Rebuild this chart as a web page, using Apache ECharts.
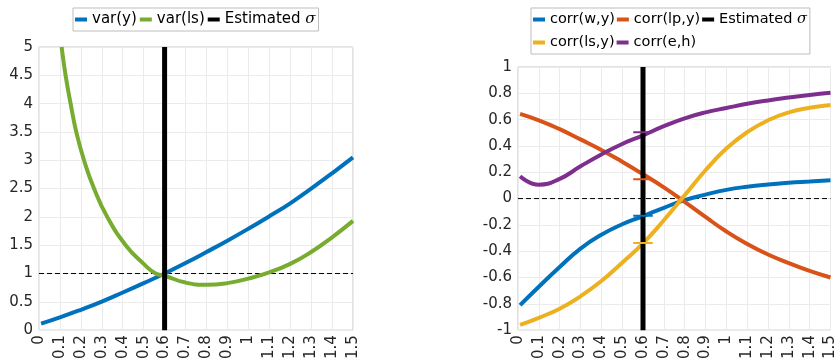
<!DOCTYPE html>
<html>
<head>
<meta charset="utf-8">
<script src="https://cdn.jsdelivr.net/npm/echarts@6/dist/echarts.min.js"></script>
<style>
html,body{margin:0;padding:0;background:#fff;}
#c{width:838px;height:362px;}
</style>
</head>
<body>
<div id="c"></div>
<script>
// ---------- data ----------
const sigmaEst = 0.6;

// left panel
const xVarY = [0.01,0.1,0.2,0.3,0.4,0.5,0.6,0.7,0.8,0.9,1.0,1.1,1.2,1.3,1.4,1.5];
const varY  = [0.115,0.225,0.36,0.505,0.665,0.83,1.0,1.185,1.38,1.58,1.79,2.01,2.24,2.50,2.77,3.05];
const xVarLs = [0.108,0.127,0.151,0.178,0.215,0.263,0.326,0.414,0.5,0.557,0.6,0.7,0.8,0.9,1.0,1.1,1.2,1.3,1.4,1.5];
const varLs  = [5,4.5,4,3.5,3,2.5,2,1.5,1.17,1.0,0.96,0.84,0.80,0.83,0.91,1.02,1.17,1.38,1.64,1.93];
const leftRef = 1;

// right panel
const xCorr  = [0.01,0.1,0.2,0.3,0.4,0.5,0.6,0.7,0.8,0.9,1.0,1.1,1.2,1.3,1.4,1.5];
const corrWY  = [-0.81,-0.67,-0.52,-0.38,-0.275,-0.195,-0.133,-0.07,-0.012,0.03,0.066,0.09,0.107,0.12,0.13,0.14];
const corrLPY = [0.644,0.595,0.528,0.45,0.37,0.28,0.185,0.085,-0.025,-0.14,-0.25,-0.345,-0.425,-0.49,-0.55,-0.6];
const corrLSY = [-0.96,-0.906,-0.837,-0.743,-0.627,-0.487,-0.34,-0.165,0.025,0.215,0.38,0.505,0.595,0.655,0.69,0.712];
const corrEH  = [0.17,0.106,0.15,0.245,0.335,0.415,0.48,0.55,0.61,0.655,0.688,0.72,0.746,0.768,0.788,0.805];
const rightRef = 0;
// estimated values marked at sigma
const markWY = -0.13, markLPY = 0.146, markLSY = -0.337, markEH = 0.505;
const markHalf = 0.047;

// ---------- style ----------
const C = {blue:'#0072BD', orange:'#D95319', yellow:'#EDB120', purple:'#7E2F8E', green:'#77AC30', black:'#000000'};
const FONT = 'DejaVu Sans';
const fmt = v => String(parseFloat(v.toFixed(2)));

function pairs(xs, ys){ return xs.map((x,i)=>[x, ys[i]]); }

function xAxisCfg(gi){
  return {
    type:'value', gridIndex:gi, min:0, max:1.5, interval:0.1,
    axisLine:{show:false}, axisTick:{show:false},
    splitLine:{show:true, lineStyle:{color:'#ebebeb', width:1}},
    axisLabel:{rotate:90, margin:5, fontSize:15, color:'#262626', fontFamily:FONT, formatter:fmt}
  };
}
function yAxisCfg(gi, mn, mx, iv){
  return {
    type:'value', gridIndex:gi, min:mn, max:mx, interval:iv,
    axisLine:{show:false}, axisTick:{show:false},
    splitLine:{show:true, lineStyle:{color:'#ebebeb', width:1}},
    axisLabel:{margin:6, fontSize:15, color:'#262626', fontFamily:FONT, formatter:fmt}
  };
}
function curve(name, xs, ys, color, gi){
  return {name, type:'line', xAxisIndex:gi, yAxisIndex:gi, data:pairs(xs,ys), smooth:0.5,
    showSymbol:false, symbol:'none', lineStyle:{color, width:4}, itemStyle:{color}, z:3, silent:true};
}
function seg(name, pts, color, width, type, z){
  return {name, type:'line', xAxisIndex:pts.gi, yAxisIndex:pts.gi, data:pts.d, symbol:'none',
    lineStyle:{color, width, type}, itemStyle:{color}, z, silent:true};
}

const legendFmt = n => n.trim() === 'Estimated σ' ? '{n|Estimated }{s|σ}' : n;
function legendText(fs){
  return {fontSize:fs, color:'#000', fontFamily:FONT, lineHeight:21,
    rich:{n:{fontSize:fs, fontFamily:FONT, color:'#000', lineHeight:21}, s:{fontSize:fs, fontStyle:'italic', fontFamily:'DejaVu Serif', color:'#000', lineHeight:21}}};
}
const legendBase = {orient:'horizontal', itemWidth:12, itemHeight:4, itemGap:3, icon:'rect',
  padding:[1,3,1,2], borderColor:'#bdbdbd', borderWidth:1, backgroundColor:'#fff',
  formatter:legendFmt};

const option = {
  animation:false,
  backgroundColor:'#fff',
  grid:[
    {left:39, top:47, width:314, height:290, show:true, borderColor:'#c4c4c4', borderWidth:1, backgroundColor:'transparent'},
    {left:518, top:67, width:315, height:270, show:true, borderColor:'#c4c4c4', borderWidth:1, backgroundColor:'transparent'}
  ],
  xAxis:[xAxisCfg(0), xAxisCfg(1)],
  yAxis:[yAxisCfg(0,0,5,0.5), yAxisCfg(1,-1,1,0.2)],
  legend:[
    Object.assign({}, legendBase, {left:73, top:8, textStyle:legendText(15), data:['var(y)','var(ls)','Estimated σ']}),
    Object.assign({}, legendBase, {left:531, top:8, width:284, itemGap:2, textStyle:legendText(14.5), data:['corr(w,y)','corr(lp,y)','Estimated σ ','corr(ls,y)','corr(e,h)']})
  ],
  series:[
    seg('', {gi:0, d:[[0,leftRef],[1.5,leftRef]]}, '#000', 1, [5,3], 2),
    curve('var(y)', xVarY, varY, C.blue, 0),
    curve('var(ls)', xVarLs, varLs, C.green, 0),
    seg('Estimated σ', {gi:0, d:[[sigmaEst,0],[sigmaEst,5]]}, C.black, 5, 'solid', 5),

    seg('', {gi:1, d:[[0,rightRef],[1.5,rightRef]]}, '#000', 1, [5,3], 2),
    curve('corr(w,y)', xCorr, corrWY, C.blue, 1),
    curve('corr(lp,y)', xCorr, corrLPY, C.orange, 1),
    curve('corr(ls,y)', xCorr, corrLSY, C.yellow, 1),
    curve('corr(e,h)', xCorr, corrEH, C.purple, 1),
    seg('Estimated σ ', {gi:1, d:[[sigmaEst,-1],[sigmaEst,1]]}, C.black, 5, 'solid', 5),
    seg('', {gi:1, d:[[sigmaEst-markHalf,markEH],[sigmaEst+markHalf,markEH]]}, C.purple, 2, 'solid', 6),
    seg('', {gi:1, d:[[sigmaEst-markHalf,markLPY],[sigmaEst+markHalf,markLPY]]}, C.orange, 2, 'solid', 6),
    seg('', {gi:1, d:[[sigmaEst-markHalf,markWY],[sigmaEst+markHalf,markWY]]}, C.blue, 2, 'solid', 6),
    seg('', {gi:1, d:[[sigmaEst-markHalf,markLSY],[sigmaEst+markHalf,markLSY]]}, C.yellow, 2, 'solid', 6)
  ]
};
const chart = echarts.init(document.getElementById('c'), null, {renderer:'canvas'});
chart.setOption(option);
</script>
</body>
</html>
